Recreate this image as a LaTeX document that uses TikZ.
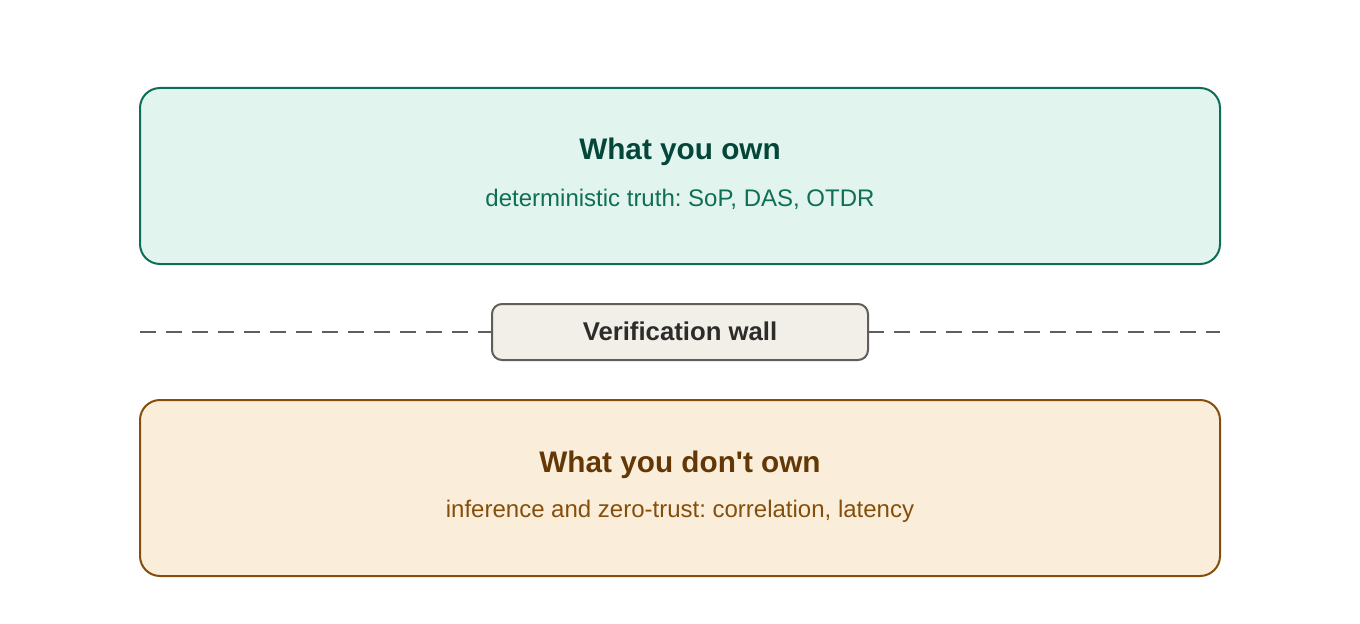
\documentclass[tikz,border=0pt]{standalone}
\usepackage{fontspec}
\setmainfont{Liberation Sans}
\usepackage{xcolor}
\usetikzlibrary{positioning}
\definecolor{ownfill}{HTML}{E1F5EE}
\definecolor{owndraw}{HTML}{0F6E56}
\definecolor{owntitle}{HTML}{04473A}
\definecolor{notfill}{HTML}{FAEEDA}
\definecolor{notdraw}{HTML}{854F0B}
\definecolor{nottitle}{HTML}{633806}
\definecolor{wallfill}{HTML}{F1EFE8}
\definecolor{walldraw}{HTML}{5F5E5A}
\definecolor{walltext}{HTML}{2C2C2A}
\frenchspacing

\begin{document}
\begin{tikzpicture}[x=0.75pt, y=-0.75pt, every node/.style={inner sep=0pt, outer sep=0pt}]
    % Define styles for the zones, the wall and the texts
    \tikzstyle{zone} = [draw, rectangle, rounded corners=15pt, line width=1.5pt, minimum width=810pt, minimum height=132pt]
    \tikzstyle{wallbox} = [draw=walldraw, fill=wallfill, rectangle, rounded corners=7.5pt, line width=1.5pt, minimum width=282pt, minimum height=42pt]
    \tikzstyle{title} = [anchor=base, font=\fontsize{22.3}{26}\selectfont\bfseries]
    \tikzstyle{sub} = [anchor=base, font=\fontsize{18}{22}\selectfont]
    \tikzstyle{wallline} = [draw=walldraw, line width=1.5pt, dash pattern=on 12pt off 7.5pt]

    \useasboundingbox (0,0) rectangle (1360,624);

    % Zones
    \node [zone, draw=owndraw, fill=ownfill] (own) at (680,176) {};
    \node [zone, draw=notdraw, fill=notfill] (notown) at (680,488) {};
    \node [title, text=owntitle] (owntitle) at (680,160) {What you own};
    \node [sub, text=owndraw] (ownsub) at (680,206) {deterministic truth: SoP, DAS, OTDR};
    \node [title, text=nottitle] (nottitle) at (680,472) {What you don\textquotesingle t own};
    \node [sub, text=notdraw] (notsub) at (680,517) {inference and zero-trust: correlation, latency};

    % Verification wall
    \coordinate (wallleft) at (own.west |- 0,331.5);
    \coordinate (wallright) at (own.east |- 0,331.5);
    \draw [wallline] (wallleft) -- (wallright);
    \node [wallbox] (wall) at (680,332) {};
    \node [title, font=\fontsize{19.3}{23}\selectfont\bfseries, text=walltext] (walllabel) at (680,340) {Verification wall};
\end{tikzpicture}
\end{document}
